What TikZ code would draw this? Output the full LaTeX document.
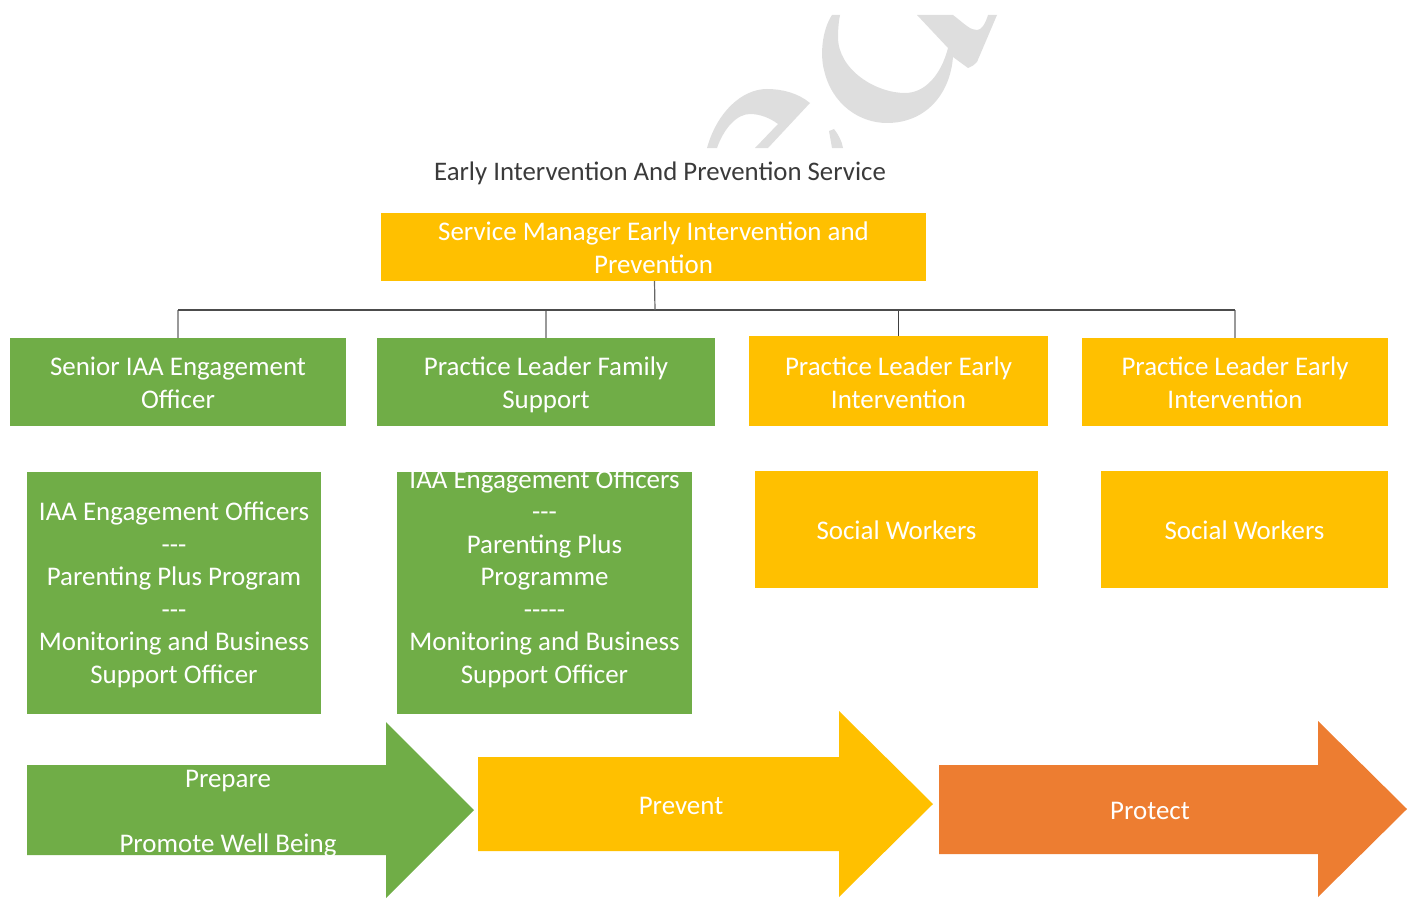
\documentclass[tikz,border=0pt]{standalone}
\usepackage{fontspec}
\setmainfont{Carlito}
\definecolor{bgreen}{HTML}{70AD47}
\definecolor{byellow}{HTML}{FFC000}
\definecolor{borange}{HTML}{ED7D31}
\definecolor{wmark}{HTML}{DEDEDE}
\definecolor{titlec}{HTML}{3A3A3A}
\newcommand{\bx}[8]{% name x1 y1 x2 y2 colour text text-offset
  \pgfmathsetmacro{\cxx}{(#2+#4)/2}\pgfmathsetmacro{\cyy}{(#3+#5)/2}
  \pgfmathsetmacro{\wxx}{(#4-#2)*0.75}\pgfmathsetmacro{\hyy}{(#5-#3)*0.75}
  \pgfmathsetmacro{\tyy}{\cyy+#8}
  \node[orgbox,fill=#6,minimum width=\wxx pt,minimum height=\hyy pt] (#1) at (\cxx,\cyy) {};
  \node[label] (#1text) at (\cxx,\tyy) {#7};}
\tikzset{
  x=0.75pt,y=-0.75pt,
  orgbox/.style={inner sep=0pt,outer sep=0pt},
  label/.style={inner sep=0pt,outer sep=0pt,text=white,align=center,font=\orgfont},
  link/.style={draw=#1,line width=0.9pt},
}
\newcommand{\orgfont}{\fontsize{20.2pt}{24.4pt}\selectfont}
\begin{document}
\begin{tikzpicture}
\useasboundingbox (0,0) rectangle (1411,899);
% watermark
\fill[wmark] (832,15) .. controls (822,30) and (820,55) .. (824,70) .. controls (832,105) and (860,123) .. (887,123) .. controls (925,123) and (950,95) .. (953,57) -- (968,68) .. controls (972,66) and (975,65) .. (977,62) -- (997,15) -- (988,15) .. controls (985,25) and (981,30) .. (977,30) .. controls (970,30) and (966,25) .. (953,15) -- (917,15) -- (948,48) .. controls (941,75) and (925,93) .. (905,93) .. controls (876,93) and (838,70) .. (838,37) .. controls (838,28) and (839,20) .. (840,15) -- cycle;
\fill[wmark] (707,148) .. controls (717,112) and (742,89) .. (767,89) .. controls (782,89) and (798,93) .. (810,103) -- (768,148) -- (755,148) -- (778,124) .. controls (770,118) and (760,114) .. (750,114) .. controls (737,114) and (724,128) .. (717,148) -- cycle;
\fill[wmark] (829,131) -- (834,129) .. controls (838,134) and (842,141) .. (843,148) -- (832,148) -- cycle;
% title
\node[inner sep=0pt,text=titlec,font=\fontsize{20.1pt}{24pt}\selectfont] (title) at (660,173) {Early Intervention And Prevention Service};
% management row
\bx{mgr}{381}{213}{926}{281}{byellow}{Service Manager Early Intervention and\\Prevention}{1}
\bx{sa}{10}{338}{346}{426}{bgreen}{Senior IAA Engagement\\Officer}{1}
\bx{sb}{377}{338}{715}{426}{bgreen}{Practice Leader Family\\Support}{3}
\bx{sc}{749}{336}{1048}{426}{byellow}{Practice Leader Early\\Intervention}{1.5}
\bx{sd}{1082}{338}{1388}{426}{byellow}{Practice Leader Early\\Intervention}{1}
% connectors
\coordinate (bus) at (655,310);
\draw[link=black!40] (sa.north) -- (sa.north |- bus);
\draw[link=black!40] (sd.north) -- (sd.north |- bus);
\draw[link=black!40] (sb.north) -- (sb.north |- bus);
\draw[link=black!75] (sc.north) -- (sc.north |- bus);
\draw[link=black!70] (sa.north |- bus) -- (sd.north |- bus);
\draw[link=black!60] (mgr.south) ++(1,0) -- (bus);
% staff row
\bx{ta}{27}{472}{321}{714}{bgreen}{IAA Engagement Officers\\-{}-{}-\\Parenting Plus Program\\-{}-{}-\\Monitoring and Business\\Support Officer}{2}
\bx{tb}{397}{472}{692}{714}{bgreen}{IAA Engagement Officers\\-{}-{}-\\Parenting Plus\\Programme\\-{}-{}-{}-{}-\\Monitoring and Business\\Support Officer}{-14.5}
\bx{tc}{755}{471}{1038}{588}{byellow}{Social Workers}{1}
\bx{td}{1101}{471}{1388}{588}{byellow}{Social Workers}{1}
% arrows
\fill[bgreen] (27,765) -- (386,765) -- (386,722) -- (474,810) -- (386,898) -- (386,855) -- (27,855) -- cycle;
\fill[byellow] (478,757) -- (839,757) -- (839,711) -- (933,804) -- (839,897) -- (839,851) -- (478,851) -- cycle;
\fill[borange] (939,765) -- (1318,765) -- (1318,721) -- (1407,809) -- (1318,897) -- (1318,854) -- (939,854) -- cycle;
\node[label] (prepare) at (228,813.5) {Prepare\\[0pt]\mbox{}\\Promote Well Being};
\node[label] (prevent) at (681,806) {Prevent};
\node[label] (protect) at (1150,811) {Protect};
\end{tikzpicture}
\end{document}
